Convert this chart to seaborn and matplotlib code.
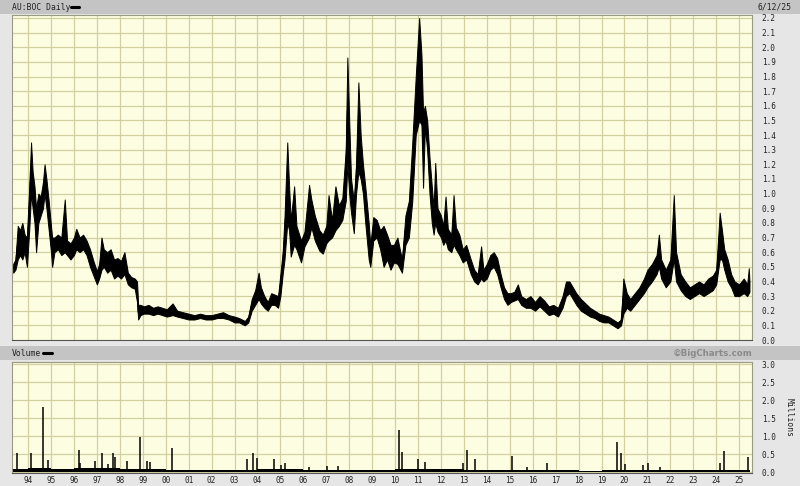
import numpy as np
import matplotlib
matplotlib.use('Agg')
import matplotlib.pyplot as plt
import seaborn as sns
from matplotlib.patches import Rectangle

# ------------------------------------------
# Data (decimal year, price range in AUD)
# ------------------------------------------
price_t = [1993.35, 1993.45, 1993.55, 1993.65, 1993.75, 1993.85, 1993.95, 1994.05, 1994.13, 1994.2,
           1994.28, 1994.35, 1994.45, 1994.55, 1994.65, 1994.72, 1994.8, 1994.9, 1995.0, 1995.05,
           1995.15, 1995.3, 1995.45, 1995.6, 1995.7, 1995.85, 1996.0, 1996.1, 1996.25, 1996.4,
           1996.55, 1996.7, 1996.85, 1997.0, 1997.1, 1997.2, 1997.3, 1997.45, 1997.6, 1997.75,
           1997.9, 1998.05, 1998.2, 1998.35, 1998.5, 1998.65, 1998.75, 1998.8, 1998.9, 1999.05,
           1999.25, 1999.45, 1999.65, 1999.85, 2000.05, 2000.3, 2000.5, 2000.75, 2001.0, 2001.25,
           2001.5, 2001.75, 2002.0, 2002.25, 2002.5, 2002.75, 2003.0, 2003.2, 2003.45, 2003.6,
           2003.75, 2003.9, 2004.05, 2004.15, 2004.3, 2004.45, 2004.6, 2004.75, 2004.9, 2005.0,
           2005.1, 2005.18, 2005.3, 2005.38, 2005.45, 2005.6, 2005.7, 2005.9, 2006.05, 2006.25,
           2006.35, 2006.5, 2006.7, 2006.85, 2007.0, 2007.1, 2007.25, 2007.4, 2007.55, 2007.7,
           2007.85, 2007.92, 2008.0, 2008.08, 2008.2, 2008.3, 2008.4, 2008.5, 2008.6, 2008.7,
           2008.85, 2008.92, 2009.05, 2009.2, 2009.35, 2009.5, 2009.65, 2009.8, 2009.95, 2010.1,
           2010.3, 2010.45, 2010.6, 2010.75, 2010.9, 2011.05, 2011.15, 2011.22, 2011.3, 2011.4,
           2011.5, 2011.6, 2011.68, 2011.75, 2011.85, 2012.0, 2012.1, 2012.2, 2012.3, 2012.45,
           2012.55, 2012.65, 2012.8, 2012.95, 2013.1, 2013.3, 2013.45, 2013.6, 2013.75, 2013.85,
           2014.0, 2014.15, 2014.3, 2014.45, 2014.6, 2014.75, 2014.9, 2015.05, 2015.2, 2015.35,
           2015.5, 2015.7, 2015.9, 2016.1, 2016.3, 2016.5, 2016.7, 2016.9, 2017.1, 2017.3,
           2017.45, 2017.6, 2017.75, 2017.9, 2018.1, 2018.3, 2018.5, 2018.7, 2018.9, 2019.1,
           2019.3, 2019.5, 2019.7, 2019.85, 2019.95, 2020.1, 2020.25, 2020.45, 2020.65, 2020.85,
           2021.0, 2021.2, 2021.4, 2021.5, 2021.6, 2021.8, 2022.0, 2022.15, 2022.25, 2022.45,
           2022.65, 2022.85, 2023.05, 2023.25, 2023.45, 2023.65, 2023.85, 2024.0, 2024.15, 2024.25,
           2024.35, 2024.5, 2024.65, 2024.8, 2025.0, 2025.2, 2025.35, 2025.42, 2025.45]
price_lo = [0.46, 0.48, 0.55, 0.58, 0.55, 0.60, 0.50, 0.75, 1.00, 0.90,
            0.80, 0.60, 0.80, 0.85, 0.90, 1.00, 0.90, 0.75, 0.60, 0.50,
            0.60, 0.62, 0.58, 0.60, 0.58, 0.55, 0.58, 0.62, 0.60, 0.62,
            0.58, 0.50, 0.44, 0.38, 0.42, 0.48, 0.50, 0.46, 0.48, 0.42,
            0.44, 0.42, 0.45, 0.38, 0.36, 0.35, 0.26, 0.14, 0.17, 0.18,
            0.18, 0.17, 0.18, 0.17, 0.16, 0.17, 0.16, 0.15, 0.14, 0.14,
            0.15, 0.14, 0.14, 0.15, 0.15, 0.14, 0.12, 0.12, 0.10, 0.12,
            0.20, 0.24, 0.28, 0.25, 0.22, 0.20, 0.24, 0.24, 0.22, 0.30,
            0.45, 0.55, 0.80, 0.75, 0.57, 0.65, 0.62, 0.53, 0.64, 0.70,
            0.77, 0.68, 0.61, 0.59, 0.66, 0.68, 0.70, 0.75, 0.78, 0.82,
            0.95, 1.20, 1.00, 0.87, 0.73, 1.00, 1.15, 1.10, 1.00, 0.80,
            0.55, 0.50, 0.68, 0.70, 0.62, 0.50, 0.55, 0.48, 0.53, 0.52,
            0.46, 0.65, 0.70, 0.95, 1.40, 1.50, 1.47, 1.04, 1.45, 1.30,
            1.00, 0.80, 0.72, 0.80, 0.74, 0.70, 0.65, 0.68, 0.62, 0.60,
            0.65, 0.62, 0.58, 0.53, 0.55, 0.45, 0.40, 0.38, 0.42, 0.40,
            0.42, 0.48, 0.50, 0.45, 0.36, 0.28, 0.24, 0.26, 0.27, 0.28,
            0.24, 0.22, 0.22, 0.20, 0.23, 0.20, 0.17, 0.18, 0.16, 0.22,
            0.30, 0.32, 0.28, 0.24, 0.20, 0.18, 0.16, 0.15, 0.13, 0.12,
            0.12, 0.10, 0.08, 0.10, 0.18, 0.22, 0.20, 0.24, 0.28, 0.32,
            0.36, 0.40, 0.45, 0.50, 0.42, 0.36, 0.40, 0.55, 0.40, 0.34,
            0.30, 0.28, 0.30, 0.32, 0.30, 0.32, 0.34, 0.38, 0.55, 0.55,
            0.48, 0.40, 0.36, 0.30, 0.30, 0.32, 0.30, 0.32, 0.33]
price_hi = [0.52, 0.55, 0.78, 0.75, 0.80, 0.72, 0.70, 1.05, 1.35, 1.15,
            1.05, 0.90, 1.00, 0.98, 1.08, 1.20, 1.10, 0.95, 0.78, 0.70,
            0.70, 0.72, 0.70, 0.96, 0.68, 0.66, 0.70, 0.76, 0.70, 0.72,
            0.68, 0.62, 0.54, 0.47, 0.52, 0.70, 0.62, 0.60, 0.62, 0.55,
            0.56, 0.54, 0.60, 0.46, 0.43, 0.42, 0.40, 0.24, 0.24, 0.23,
            0.24, 0.22, 0.23, 0.22, 0.21, 0.25, 0.20, 0.19, 0.18, 0.17,
            0.18, 0.17, 0.17, 0.18, 0.19, 0.17, 0.16, 0.15, 0.13, 0.16,
            0.28, 0.34, 0.46, 0.36, 0.30, 0.26, 0.32, 0.31, 0.30, 0.45,
            0.60, 0.84, 1.35, 1.05, 0.82, 1.05, 0.78, 0.68, 0.74, 1.06,
            0.96, 0.85, 0.75, 0.72, 0.78, 0.99, 0.82, 1.05, 0.92, 0.97,
            1.30, 1.93, 1.50, 1.10, 0.95, 1.20, 1.76, 1.40, 1.20, 1.05,
            0.80, 0.65, 0.84, 0.82, 0.75, 0.78, 0.72, 0.65, 0.65, 0.70,
            0.55, 0.85, 0.95, 1.35, 1.80, 2.20, 1.95, 1.55, 1.60, 1.50,
            1.25, 1.05, 0.90, 1.21, 0.90, 0.85, 0.78, 0.98, 0.76, 0.72,
            0.99, 0.77, 0.72, 0.62, 0.65, 0.55, 0.48, 0.45, 0.64, 0.48,
            0.52, 0.58, 0.60, 0.56, 0.45, 0.36, 0.32, 0.32, 0.33, 0.38,
            0.30, 0.28, 0.30, 0.26, 0.30, 0.27, 0.23, 0.24, 0.22, 0.30,
            0.40, 0.40, 0.36, 0.32, 0.28, 0.25, 0.22, 0.20, 0.18, 0.17,
            0.16, 0.14, 0.12, 0.14, 0.42, 0.32, 0.28, 0.32, 0.36, 0.42,
            0.48, 0.52, 0.58, 0.72, 0.55, 0.48, 0.55, 0.99, 0.60, 0.45,
            0.40, 0.36, 0.38, 0.40, 0.38, 0.42, 0.44, 0.48, 0.87, 0.75,
            0.62, 0.55, 0.45, 0.40, 0.38, 0.42, 0.38, 0.49, 0.40]

# volume spikes (millions of shares)
vol_t = [1993.52, 1994.13, 1994.65, 1994.87, 1996.22, 1996.27, 1996.92, 1997.23, 1997.5, 1997.7,
         1997.8, 1998.3, 1998.88, 1999.19, 1999.32, 2000.28, 2003.55, 2003.8, 2004.0, 2004.72,
         2005.03, 2005.2, 2006.25, 2007.03, 2007.5, 2010.17, 2010.3, 2011.0, 2011.3, 2012.96,
         2013.14, 2013.5, 2015.1, 2015.75, 2016.62, 2019.68, 2019.85, 2020.03, 2020.8, 2021.03,
         2021.55, 2024.17, 2024.34, 2025.39]
vol_v = [0.53, 0.52, 1.80, 0.33, 0.61, 0.25, 0.30, 0.53, 0.22, 0.52,
         0.42, 0.30, 0.98, 0.30, 0.28, 0.66, 0.35, 0.52, 0.40, 0.35,
         0.20, 0.25, 0.15, 0.18, 0.17, 1.17, 0.55, 0.35, 0.28, 0.25,
         0.61, 0.35, 0.44, 0.14, 0.25, 0.84, 0.53, 0.22, 0.20, 0.25,
         0.14, 0.25, 0.58, 0.42]

# typical daily volume per calendar year
base_years = list(range(1993, 2026))
base_vol = [0.09, 0.10, 0.09, 0.10, 0.10, 0.09, 0.08, 0.06, 0.05, 0.05,
            0.06, 0.09, 0.08, 0.06, 0.06, 0.06, 0.05, 0.08, 0.09, 0.07,
            0.06, 0.05, 0.05, 0.05, 0.05, 0.04, 0.05, 0.06, 0.06, 0.05,
            0.05, 0.06, 0.06]

years = list(range(1994, 2026))
year_labels = [f"{y % 100:02d}" for y in years]

# ------------------------------------------
# Figure layout (pixel based, 800x486)
# ------------------------------------------
W, H = 800, 486
sns.set_style('white')
plt.rcParams['font.family'] = ['DejaVu Sans Mono']

fig = plt.figure(figsize=(W / 100, H / 100), dpi=100, facecolor='#e6e6e6')

def box(x0, y0, x1, y1):
    return [x0 / W, 1 - y1 / H, (x1 - x0) / W, (y1 - y0) / H]

# header bars
for y0, y1 in [(0, 14), (346, 360)]:
    fig.add_artist(Rectangle((0, 1 - y1 / H), 1, (y1 - y0) / H, transform=fig.transFigure,
                             facecolor='#c4c4c4', edgecolor='none', zorder=0))

bg = '#fdfde2'
grid_c = '#d2d0a0'
x_lo, x_hi = 1993.30, 2025.56

ax1 = fig.add_axes(box(12, 15, 752, 340))
ax2 = fig.add_axes(box(12, 362, 752, 473))

for ax in (ax1, ax2):
    ax.set_facecolor(bg)
    ax.set_xlim(x_lo, x_hi)
    ax.set_xticks(years)
    ax.grid(True, color=grid_c, lw=0.9)
    ax.set_axisbelow(True)
    ax.yaxis.tick_right()
    ax.tick_params(length=0, labelsize=5.6, colors='#222222', pad=7)
    for s in ax.spines.values():
        s.set_color('#9a9a80')
        s.set_linewidth(0.8)
    ax.spines['bottom'].set_color('#555555')

# price panel
ax1.set_ylim(0, 2.2 + 3 / 146.4)
ax1.set_yticks(np.round(np.arange(0, 2.21, 0.1), 1))
ax1.set_yticklabels([f"{v:.1f}" for v in np.arange(0, 2.21, 0.1)])
ax1.set_xticklabels([])
ax1.fill_between(price_t, price_lo, price_hi, color='black', lw=0.7)
mid = [(a + b) / 2 for a, b in zip(price_lo, price_hi)]
sns.lineplot(x=price_t, y=mid, color='black', lw=0.8, ax=ax1)
ax1.set_xlabel('')
ax1.set_ylabel('')

# volume panel
ax2.set_ylim(-1 / 36, 3.0 + 2 / 36)
ax2.set_yticks(np.arange(0, 3.01, 0.5))
ax2.set_yticklabels([f"{v:.1f}" for v in np.arange(0, 3.01, 0.5)])
ax2.set_xticklabels(year_labels)
ax2.tick_params(axis='x', pad=2)
ax2.fill_between(base_years + [2025.46], 0, base_vol + [base_vol[-1]], step='post',
                 color='black', lw=0)
ax2.vlines(vol_t, 0, vol_v, color='black', lw=1.1)

# header texts
fs = 5.8
fig.text(12 / W, 1 - 7 / H, 'AU:BOC Daily', fontsize=fs, va='center', ha='left', color='#222222')
fig.add_artist(plt.Line2D([71 / W, 79 / W], [1 - 7 / H, 1 - 7 / H], color='black', lw=2.2))
fig.text(792 / W, 1 - 7 / H, '6/12/25', fontsize=fs, va='center', ha='right', color='#222222')

fig.text(12 / W, 1 - 353 / H, 'Volume', fontsize=fs, va='center', ha='left', color='#222222')
fig.add_artist(plt.Line2D([43 / W, 52 / W], [1 - 353 / H, 1 - 353 / H], color='black', lw=2.2))
fig.text(752 / W, 1 - 353 / H, '\u00a9BigCharts.com', fontsize=6.2, fontweight='bold',
         family='DejaVu Sans', va='center', ha='right', color='#8a8a8a')

fig.text(789 / W, 1 - 418 / H, 'Millions', fontsize=fs, rotation=270, va='center', ha='center',
         color='#222222')

fig.savefig('out.png', dpi=100, facecolor=fig.get_facecolor())
